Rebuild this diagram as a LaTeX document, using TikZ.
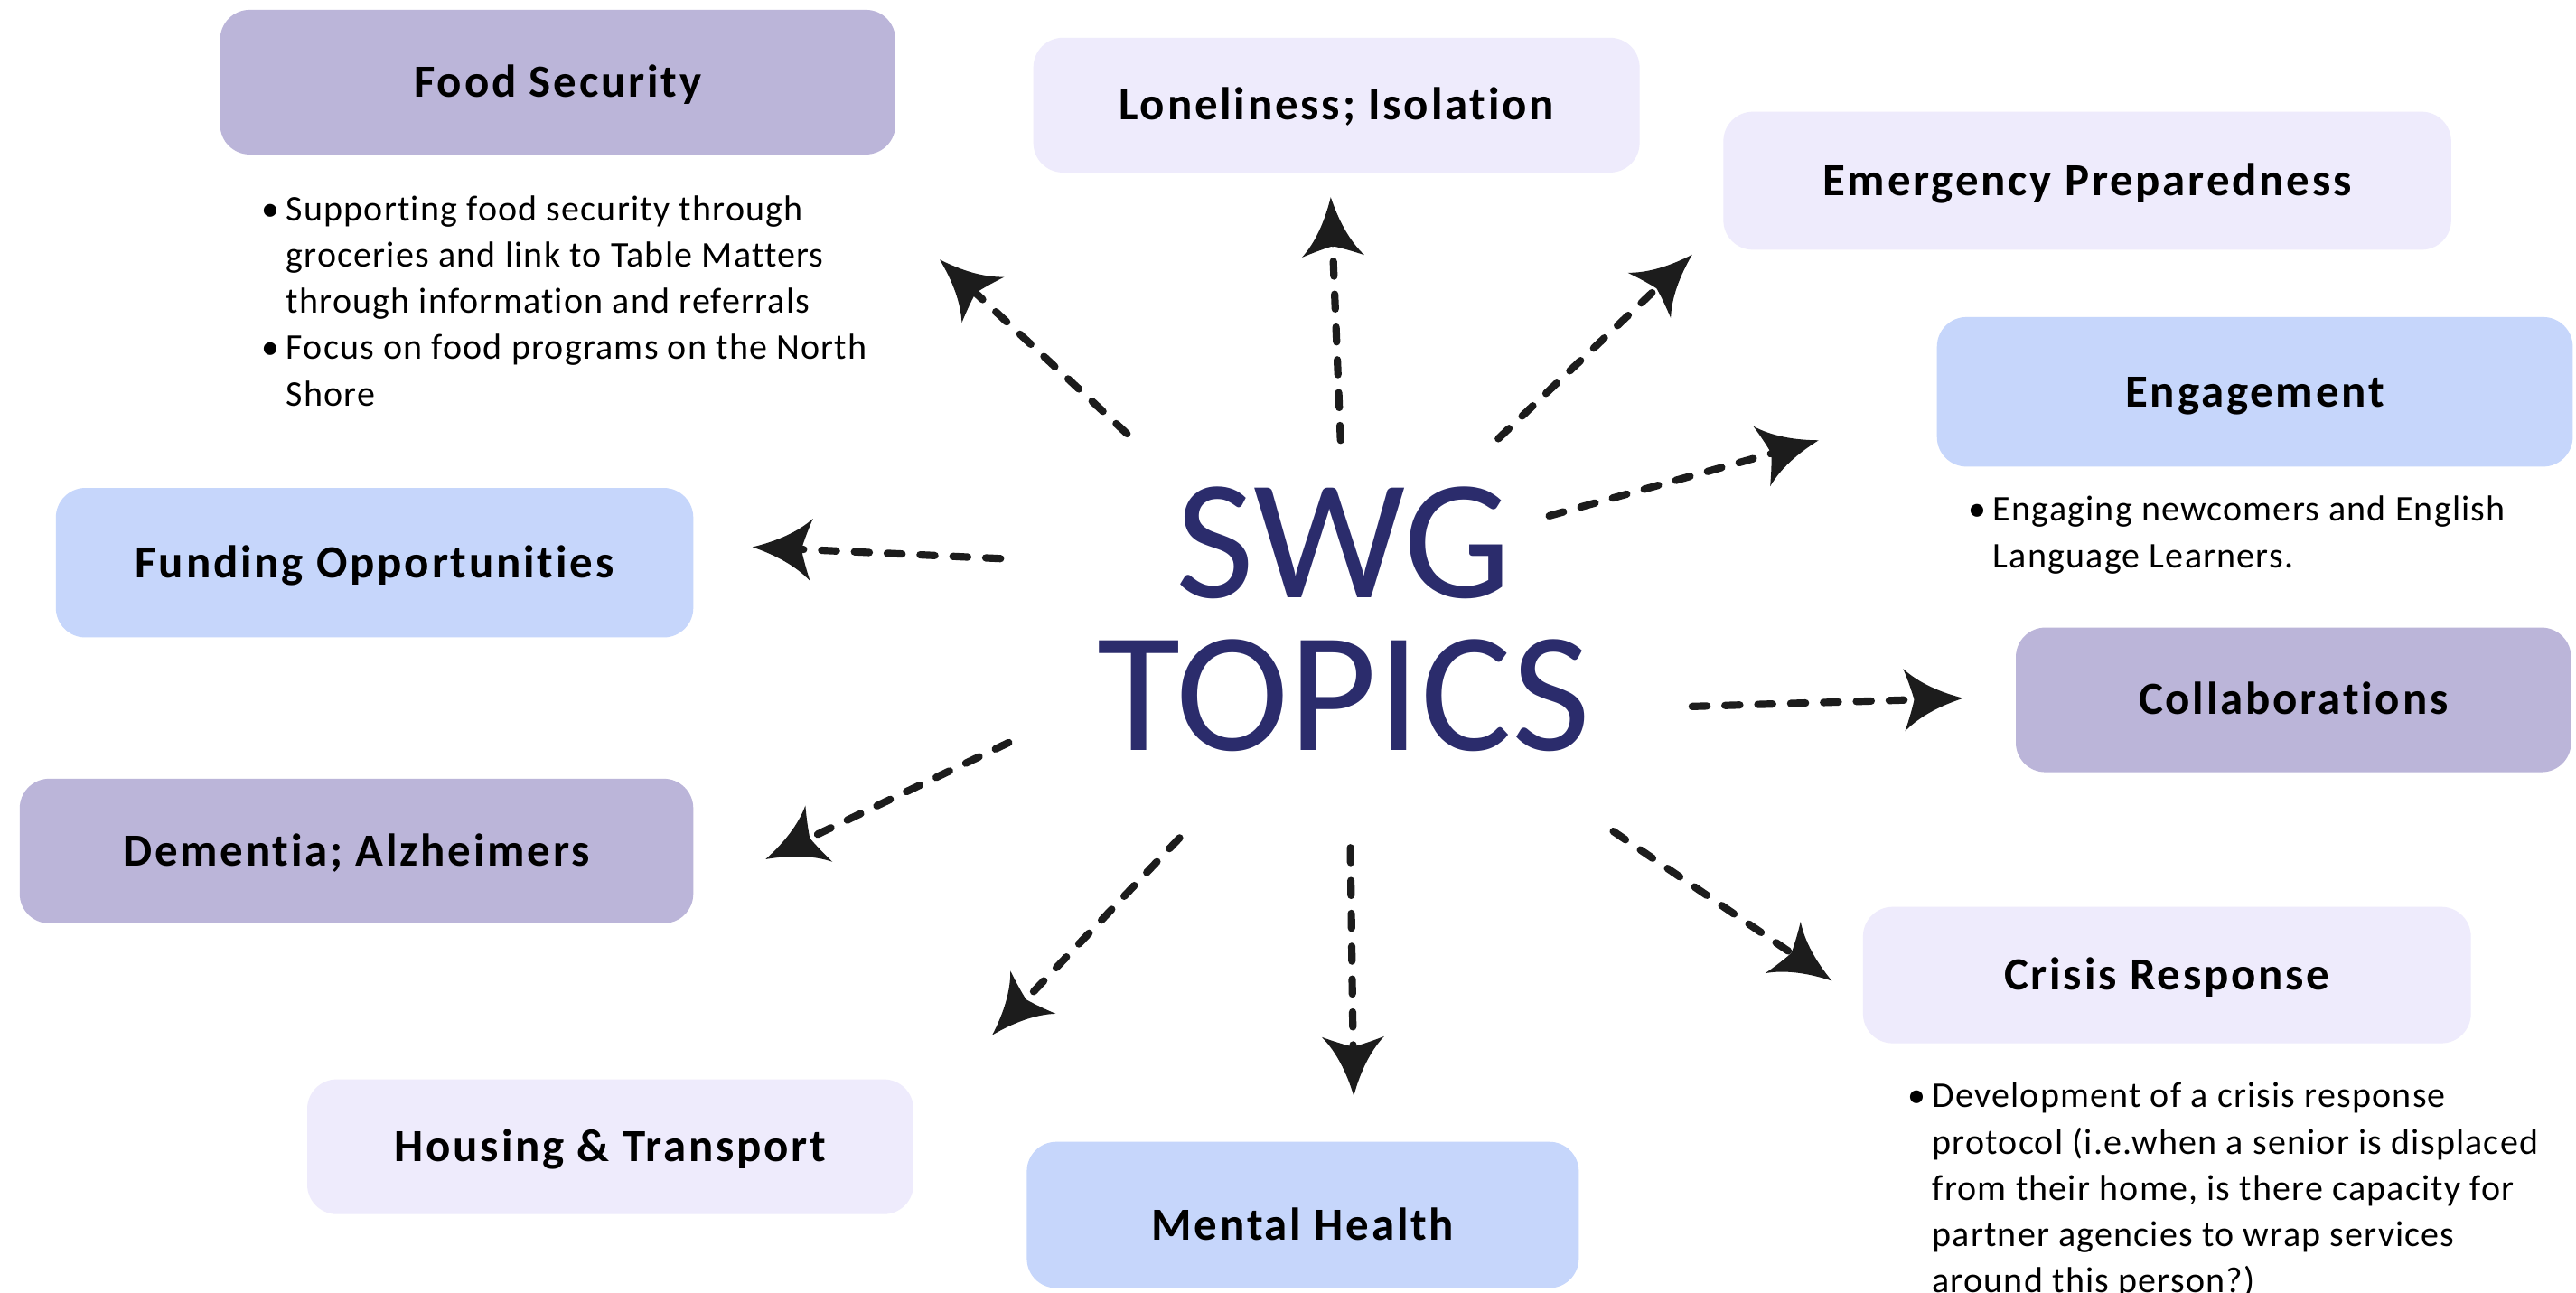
\documentclass[tikz,border=0pt]{standalone}
\usepackage{fontspec}
\setmainfont{Carlito}[Ligatures=NoCommon]
\newfontfamily\labfont{Carlito}[LetterSpace=5.5,Ligatures=NoCommon]
\newfontfamily\bodyfont{Carlito}[LetterSpace=3,Ligatures=NoCommon]
\usetikzlibrary{arrows.meta}
\definecolor{purp}{HTML}{BBB5D9}
\definecolor{lblue}{HTML}{C6D6FB}
\definecolor{lav}{HTML}{EEEBFC}
\definecolor{navy}{HTML}{2B2C6C}
\definecolor{ink}{HTML}{1C1C1C}

\pgfdeclarearrow{
  name = Flare,
  parameters = {\the\pgfarrowlength,\the\pgfarrowwidth},
  setup code = {
    \pgfarrowssettipend{0pt}
    \pgfarrowssetbackend{-\pgfarrowlength}
    \pgfarrowssetvisualbackend{-0.83\pgfarrowlength}
    \pgfarrowssetlineend{-0.72\pgfarrowlength}
    \pgfarrowshullpoint{0pt}{0pt}
    \pgfarrowshullpoint{-\pgfarrowlength}{0.5\pgfarrowwidth}
    \pgfarrowshullpoint{-\pgfarrowlength}{-0.5\pgfarrowwidth}
    \pgfarrowssavethe\pgfarrowlength
    \pgfarrowssavethe\pgfarrowwidth
  },
  drawing code = {
    \pgfpathmoveto{\pgfpointorigin}
    \pgfpathcurveto{\pgfpoint{-0.4\pgfarrowlength}{0.11\pgfarrowwidth}}{\pgfpoint{-0.75\pgfarrowlength}{0.27\pgfarrowwidth}}{\pgfpoint{-\pgfarrowlength}{0.5\pgfarrowwidth}}
    \pgfpathcurveto{\pgfpoint{-0.9\pgfarrowlength}{0.25\pgfarrowwidth}}{\pgfpoint{-0.85\pgfarrowlength}{0.08\pgfarrowwidth}}{\pgfpoint{-0.83\pgfarrowlength}{0pt}}
    \pgfpathcurveto{\pgfpoint{-0.85\pgfarrowlength}{-0.08\pgfarrowwidth}}{\pgfpoint{-0.9\pgfarrowlength}{-0.25\pgfarrowwidth}}{\pgfpoint{-\pgfarrowlength}{-0.5\pgfarrowwidth}}
    \pgfpathcurveto{\pgfpoint{-0.75\pgfarrowlength}{-0.27\pgfarrowwidth}}{\pgfpoint{-0.4\pgfarrowlength}{-0.11\pgfarrowwidth}}{\pgfpointorigin}
    \pgfpathclose
    \pgfusepathqfill
  },
  defaults = {length = 35pt, width = 37pt}
}

\newcommand{\bul}{\makebox[15pt][l]{•}}
\newcommand{\ind}{\hspace*{15pt}}

\tikzset{
  topicbox/.style={rounded corners=18pt, draw=none, inner sep=0pt,
    font=\labfont\bfseries\fontsize{28}{30}\selectfont, text=black,
    text height=18pt, text depth=0pt},
  bodytext/.style={anchor=base west, inner sep=0pt, align=left,
    font=\bodyfont\fontsize{22}{28.2}\selectfont, text=black},
  conn/.style={draw=ink, line width=4.5pt, line cap=round,
    dash pattern=on 9pt off 11pt, -{Flare[length=36pt,width=38pt]}}
}

\begin{document}
\begin{tikzpicture}[x=1pt,y=-1pt]
\fill[white] (0,0) rectangle (1568,787);
\useasboundingbox (0,0) rectangle (1568,787);

% topic boxes
\node[topicbox, fill=purp, minimum width=411pt, minimum height=88pt] (food) at (339.5,50) {Food Security};
\node[topicbox, fill=lav, minimum width=369pt, minimum height=82pt] (lonely) at (813.5,64) {Loneliness; Isolation};
\node[topicbox, fill=lav, minimum width=443pt, minimum height=84pt] (emerg) at (1270.5,110) {Emergency Preparedness};
\node[topicbox, fill=lblue, minimum width=387pt, minimum height=91pt] (engage) at (1372.5,238.5) {Engagement};
\node[topicbox, fill=purp, minimum width=338pt, minimum height=88pt] (collab) at (1396,426) {Collaborations};
\node[topicbox, fill=lav, minimum width=370pt, minimum height=83pt] (crisis) at (1319,593.5) {Crisis Response};
\node[topicbox, fill=lblue, minimum width=336pt, minimum height=89pt, text height=31pt] (mental) at (793,739.5) {Mental Health};
\node[topicbox, fill=lav, minimum width=369pt, minimum height=82pt] (housing) at (371.5,698) {Housing \& Transport};
\node[topicbox, fill=purp, minimum width=410pt, minimum height=88pt] (dementia) at (217,518) {Dementia; Alzheimers};
\node[topicbox, fill=lblue, minimum width=388pt, minimum height=91pt] (funding) at (228,342.5) {Funding Opportunities};

% bullet texts (base anchor = baseline of the last line)
\node[bodytext] (foodtxt) at (159,247) {\bul Supporting food security through\\
\ind groceries and link to Table Matters\\
\ind through information and referrals\\
\bul Focus on food programs on the North\\
\ind Shore};
\node[bodytext] (engtxt) at (1198,345.5) {\bul Engaging newcomers and English\\
\ind Language Learners.};
\node[bodytext] (crisistxt) at (1161,787) {\bul Development of a crisis response\\
\ind protocol (i.e.when a senior is displaced\\
\ind from their home, is there capacity for\\
\ind partner agencies to wrap services\\
\ind around this person?)};

% centre title
\node[align=center, inner sep=0pt, text=navy, font=\fontsize{104}{93}\selectfont] (swg) at (818,377) {SWG\\TOPICS};

% connector end points
\coordinate (s1) at (686,264);  \coordinate (t1) at (572,158);
\coordinate (s2) at (816,268);  \coordinate (t2) at (810,120);
\coordinate (s3) at (912,267);  \coordinate (t3) at (1030,155);
\coordinate (s4) at (943,314);  \coordinate (t4) at (1107,268);
\coordinate (s5) at (1030,430); \coordinate (t5) at (1195,425);
\coordinate (s6) at (982,506);  \coordinate (t6) at (1115,597);
\coordinate (s7) at (822,516);  \coordinate (t7) at (824,667);
\coordinate (s8) at (718,510);  \coordinate (t8) at (604,630);
\coordinate (s9) at (614,452);  \coordinate (t9) at (466,523);
\coordinate (s10) at (609,340); \coordinate (t10) at (458,333);

\foreach \i in {1,...,10} {
  \draw[conn] (s\i) -- (t\i);
}
\end{tikzpicture}
\end{document}
